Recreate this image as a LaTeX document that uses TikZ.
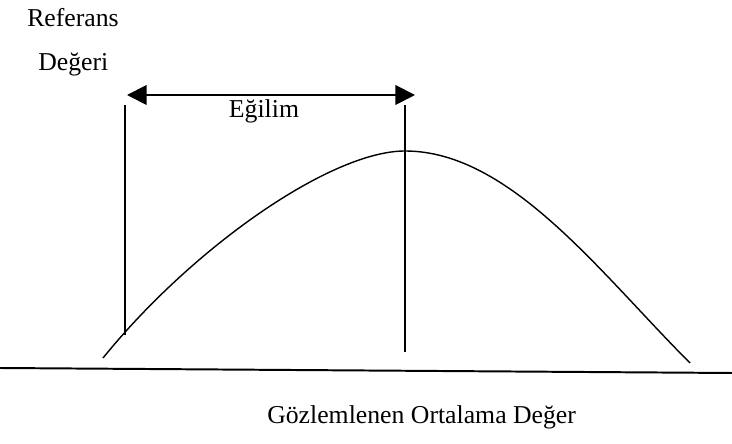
\documentclass[tikz,border=0pt]{standalone}
\usepackage{fontspec}
\setmainfont{Liberation Serif}
\usetikzlibrary{arrows.meta,positioning}
\tikzset{
      labeltext/.style={
        inner sep=0pt,
        font=\fontsize{18.3}{21}\selectfont
      },
      guideline/.style={
        line width=1.4pt
      },
      biasarrow/.style={
        {Triangle[length=14pt,width=14pt]}-{Triangle[length=14pt,width=14pt]},
        line width=1.4pt
      }
    }
\begin{document}
\begin{tikzpicture}[x=0.025cm,y=-0.025cm]
    \useasboundingbox (0,0) rectangle (732,444);
    \node[labeltext, anchor=base west] (ref) at (27,27) {Referans};
    \node[labeltext, anchor=base west] (deg) at (38,71) {Değeri};
    \node[labeltext, anchor=base] (egilim) at (264,118) {Eğilim};
    \node[labeltext, anchor=base west] (gozlem) at (267,424) {Gözlemlenen Ortalama Değer};
    \coordinate (refTop) at (125,105);
    \coordinate (refBot) at (125,335);
    \coordinate (obsTop) at (405,105);
    \coordinate (obsBot) at (405,352);
    \coordinate (arrL) at (127,95);
    \coordinate (arrR) at (415,95);
    \coordinate (axisL) at (0,368);
    \coordinate (axisR) at (732,373);
    \draw[guideline] (refTop) -- (refBot);
    \draw[guideline] (obsTop) -- (obsBot);
    \draw[biasarrow] (arrL) -- (arrR);
    \draw[guideline] (axisL) -- (axisR);
    \draw[line width=1pt] (103,358) .. controls (193,247) and (331,151) .. (405,151)
        .. controls (510,151) and (600,273) .. (690,363);
    \end{tikzpicture}
\end{document}
